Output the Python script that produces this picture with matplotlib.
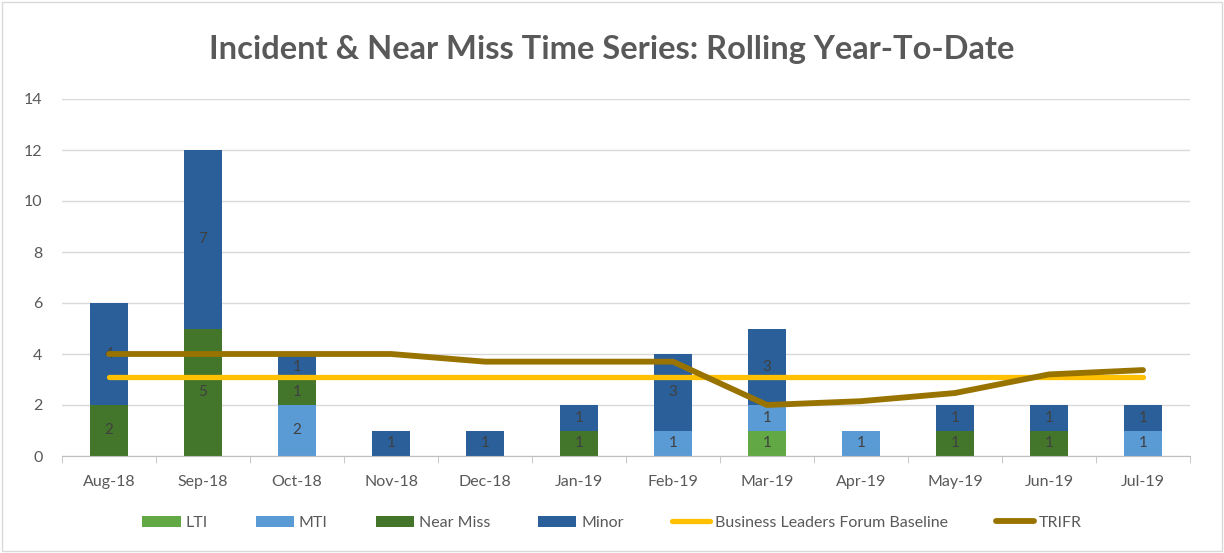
import matplotlib.pyplot as plt
import matplotlib.patches as mpatches
import numpy as np

plt.rcParams['font.family'] = ['Lato', 'DejaVu Sans']

months = ["Aug-18", "Sep-18", "Oct-18", "Nov-18", "Dec-18", "Jan-19",
          "Feb-19", "Mar-19", "Apr-19", "May-19", "Jun-19", "Jul-19"]
lti = [0, 0, 0, 0, 0, 0, 0, 1, 0, 0, 0, 0]
mti = [0, 0, 2, 0, 0, 0, 1, 1, 1, 0, 0, 1]
near_miss = [2, 5, 1, 0, 0, 1, 0, 0, 0, 1, 1, 0]
minor = [4, 7, 1, 1, 1, 1, 3, 3, 0, 1, 1, 1]
baseline = [3.1] * 12
trifr = [4.0, 4.0, 4.0, 4.0, 3.7, 3.7, 3.7, 2.0, 2.15, 2.47, 3.2, 3.37]

series = [("LTI", lti, "#62a844"),
          ("MTI", mti, "#5b9bd5"),
          ("Near Miss", near_miss, "#43752b"),
          ("Minor", minor, "#2a5f9a")]

fig = plt.figure(figsize=(12.24, 5.53), dpi=100)
ax = fig.add_axes([62/1224, 1-456/553, 1128/1224, 357/553])

x = np.arange(len(months))
bottom = np.zeros(len(months))
for name, vals, col in series:
    vals = np.array(vals, dtype=float)
    ax.bar(x, vals, 0.4, bottom=bottom, color=col, label=name, zorder=2)
    for i, v in enumerate(vals):
        if v > 0:
            ax.text(x[i], bottom[i] + v/2, f"{int(v)}", ha="center", va="center",
                    fontsize=11, color="#404040", zorder=3)
    bottom += vals

ax.plot(x, baseline, color="#ffc000", lw=3.8, label="Business Leaders Forum Baseline",
        solid_capstyle="round", zorder=4)
ax.plot(x, trifr, color="#997300", lw=4.2, label="TRIFR", solid_capstyle="round",
        solid_joinstyle="round", zorder=5)

ax.set_xlim(-0.5, 11.5)
ax.set_ylim(0, 14)
ax.set_yticks(range(0, 15, 2))
ax.set_xticks(x)
ax.set_xticklabels(months)
ax.set_xticks(np.arange(-0.5, 12, 1), minor=True)
ax.tick_params(axis="x", which="major", length=0, pad=14, labelsize=11.5, colors="#595959")
ax.tick_params(axis="x", which="minor", length=5, color="#bfbfbf")
ax.tick_params(axis="y", length=0, pad=14, labelsize=11.5, colors="#595959")
ax.grid(axis="y", color="#d9d9d9", lw=1, zorder=0)
for s in ["top", "right", "left"]:
    ax.spines[s].set_visible(False)
ax.spines["bottom"].set_color("#bfbfbf")

fig.text(0.5, 1-50/553, "Incident & Near Miss Time Series: Rolling Year-To-Date",
         ha="center", va="center", fontsize=23.5, fontweight="bold", color="#595959")

h, l = ax.get_legend_handles_labels()
order = [2, 3, 4, 5, 0, 1]
fig.legend([h[i] for i in order], [l[i] for i in order], loc="center",
           bbox_to_anchor=(0.5, 1-523/553), ncol=6, frameon=False, fontsize=11.5,
           labelcolor="#595959", handlelength=2.4, columnspacing=3.0, handletextpad=0.3)

fig.patches.append(mpatches.Rectangle((0.002, 0.003), 0.996, 0.994, transform=fig.transFigure,
                                      fill=False, edgecolor="#d9d9d9", lw=1))

fig.savefig("out.png", dpi=100)
